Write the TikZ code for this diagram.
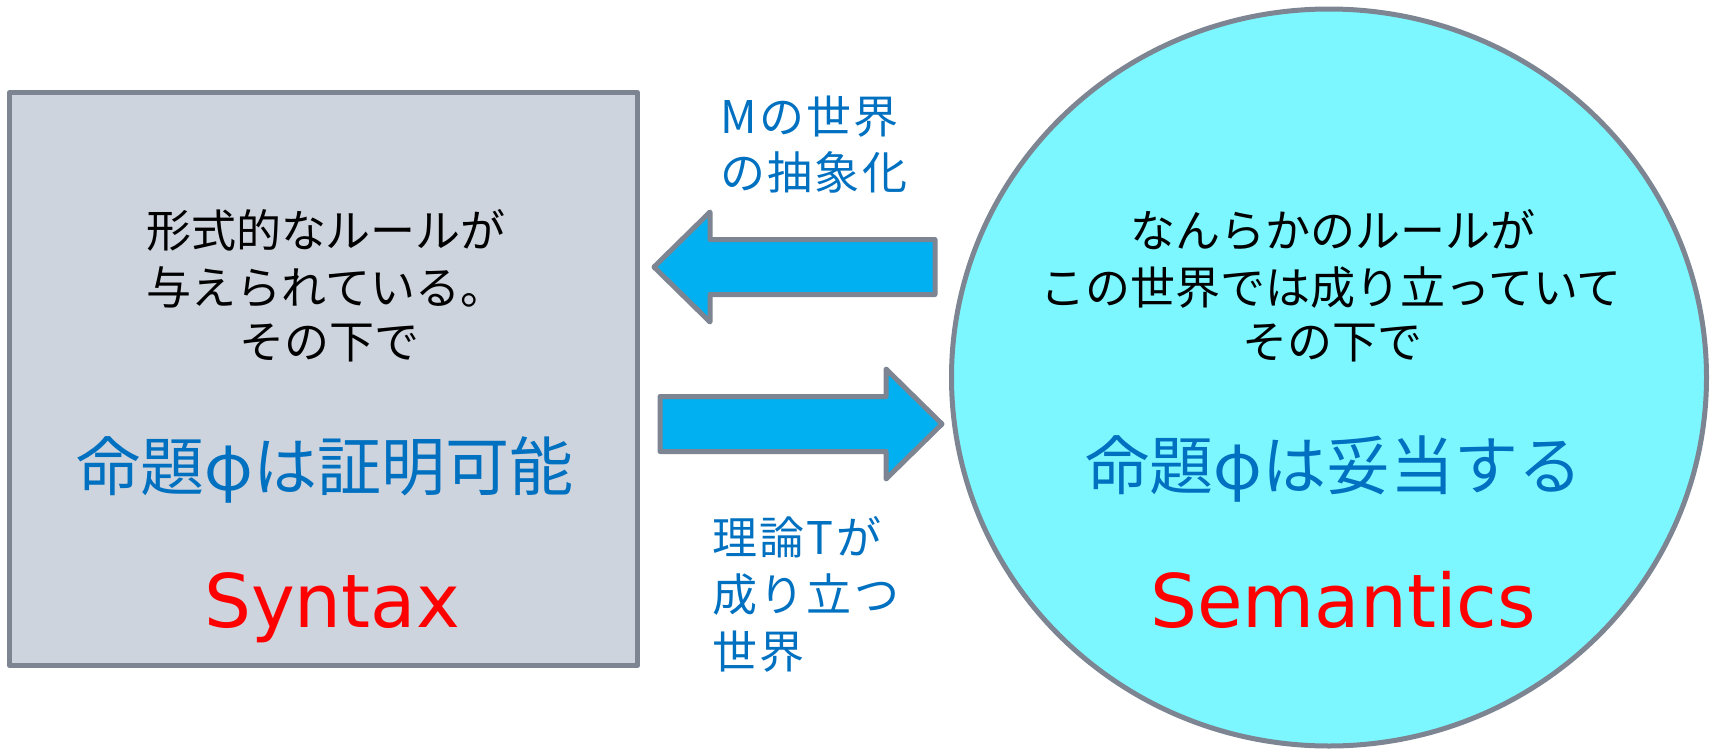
\documentclass[tikz,border=0pt]{standalone}
\usepackage{fontspec}
\setmainfont{DejaVu Sans}
\newfontfamily\jp{Noto Sans CJK JP}
\newfontfamily\jpwide{Noto Sans CJK JP}[LetterSpace=5]
\usetikzlibrary{shapes.geometric}
\definecolor{edgegray}{RGB}{124,133,145}
\definecolor{boxfill}{RGB}{206,212,221}
\definecolor{circfill}{RGB}{125,247,255}
\definecolor{arrowfill}{RGB}{0,176,240}
\definecolor{txtblue}{RGB}{0,112,192}
\definecolor{txtred}{RGB}{255,0,0}
\begin{document}
\begin{tikzpicture}[x=0.5pt,y=-0.5pt,
  shapeline/.style={draw=edgegray, line width=2.5pt, line join=round},
  blackline/.style={anchor=base, inner sep=0pt, font=\jp\fontsize{22.5pt}{27pt}\selectfont, text=black},
  bigblue/.style={anchor=base, inner sep=0pt, font=\jp\fontsize{32pt}{38pt}\selectfont, text=txtblue},
  bigred/.style={anchor=base, inner sep=0pt, font=\fontsize{37pt}{44pt}\selectfont, text=txtred},
  arrowlabel/.style={anchor=base west, inner sep=0pt, font=\jpwide\fontsize{22.5pt}{27pt}\selectfont, text=txtblue},
  blockarrow/.style={shapeline, fill=arrowfill}]
\useasboundingbox (0,0) rectangle (1715,750);

% Syntax box
\node (syn) [shapeline, fill=boxfill, rectangle, inner sep=0pt,
  minimum width=314pt, minimum height=286.5pt] at (323.5,379) {};
% Semantics circle
\node (sem) [shapeline, fill=circfill, ellipse, inner sep=0pt,
  minimum width=377.5pt, minimum height=368.5pt] at (1329,377.5) {};

% block arrows
\draw[blockarrow] (654,267) -- (710,212) -- (710,239.5) -- (935,239.5)
  -- (935,294.5) -- (710,294.5) -- (710,322) -- cycle;
\draw[blockarrow] (942,424) -- (886,369) -- (886,396.5) -- (660,396.5)
  -- (660,451.5) -- (886,451.5) -- (886,479) -- cycle;

% left box text
\node (s1) [blackline] at (326,247) {形式的なルールが};
\node (s2) [blackline] at (326,304) {与えられている。};
\node (s3) [blackline] at (329,358) {その下で};
\node (s4) [bigblue] at (325,490) {命題φは証明可能};
\node (s5) [bigred] at (332,627) {Syntax};

% circle text
\node (m1) [blackline] at (1333,247) {なんらかのルールが};
\node (m2) [blackline] at (1331,304) {この世界では成り立っていて};
\node (m3) [blackline] at (1332,358) {その下で};
\node (m4) [bigblue] at (1334,489) {命題φは妥当する};
\node (m5) [bigred] at (1343,627) {Semantics};

% arrow labels
\node (a1) [arrowlabel] at (720,133) {Mの世界};
\node (a2) [arrowlabel] at (720,189) {の抽象化};
\node (b1) [arrowlabel] at (712,554) {理論Tが};
\node (b2) [arrowlabel] at (712,611) {成り立つ};
\node (b3) [arrowlabel] at (712,668) {世界};
\end{tikzpicture}
\end{document}
